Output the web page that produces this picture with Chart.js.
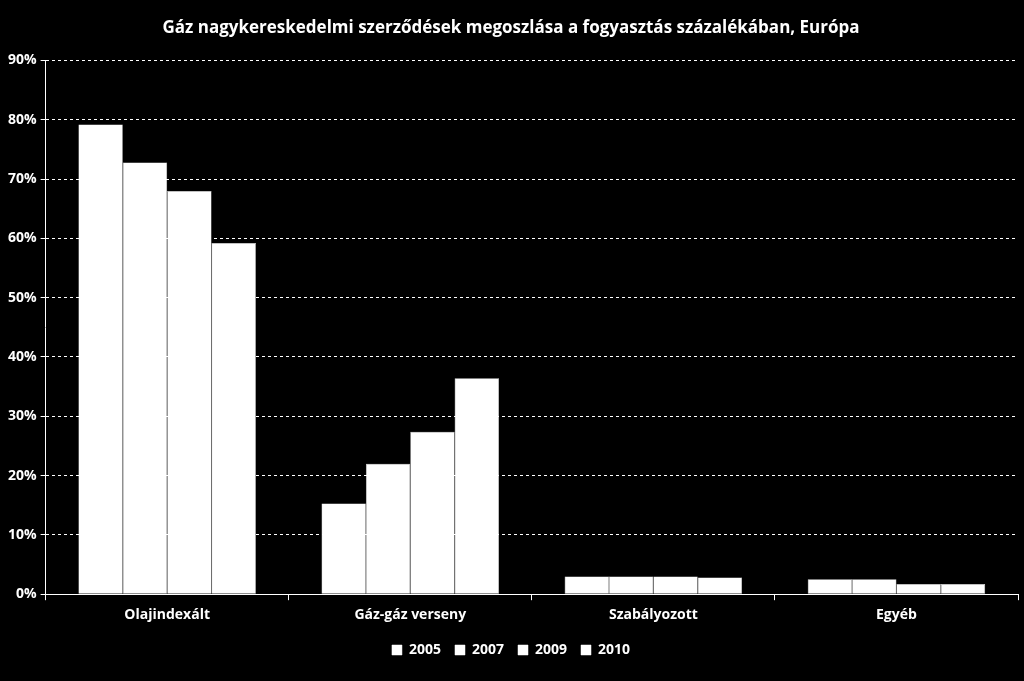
<!DOCTYPE html>
<html>
<head>
<meta charset="utf-8">
<script src="https://cdn.jsdelivr.net/npm/chart.js@4"></script>
<style>
  html, body { margin: 0; padding: 0; background: #000; }
  #wrap { width: 1024px; height: 681px; }
</style>
</head>
<body>
<div id="wrap"><canvas id="chart" width="1024" height="681"></canvas></div>
<script>
const categories = ['Olajindexált', 'Gáz-gáz verseny', 'Szabályozott', 'Egyéb'];
const years = ['2005', '2007', '2009', '2010'];
const values2005 = [79.2, 15.3, 3.0, 2.5];
const values2007 = [72.8, 22.0, 3.0, 2.5];
const values2009 = [68.0, 27.4, 3.0, 1.7];
const values2010 = [59.2, 36.4, 2.8, 1.7];
const yTicks = [0, 10, 20, 30, 40, 50, 60, 70, 80, 90];

const font = { family: "'Open Sans', sans-serif", weight: 'bold', size: 14 };

const ctx = document.getElementById('chart').getContext('2d');
new Chart(ctx, {
    type: 'bar',
    data: {
        labels: categories,
        datasets: [values2005, values2007, values2009, values2010].map((vals, i) => ({
            label: years[i],
            data: vals,
            backgroundColor: '#fff',
            borderColor: '#fff',
            borderWidth: 0.5,
            categoryPercentage: 0.73,
            barPercentage: 1.0
        }))
    },
    options: {
        responsive: false,
        animation: false,
        layout: { padding: { left: 4, right: 6, top: 0, bottom: 14 } },
        plugins: {
            title: {
                display: true,
                text: 'Gáz nagykereskedelmi szerződések megoszlása a fogyasztás százalékában, Európa',
                color: '#fff',
                font: { family: "'Open Sans', sans-serif", weight: 'bold', size: 17 },
                padding: { top: 18, bottom: 22 }
            },
            legend: {
                position: 'bottom',
                labels: {
                    color: '#fff',
                    font: font,
                    boxWidth: 10,
                    boxHeight: 10,
                    padding: 14
                }
            },
            tooltip: { enabled: false }
        },
        scales: {
            x: {
                grid: {
                    display: true,
                    drawOnChartArea: false,
                    color: '#fff',
                    tickLength: 6,
                    offset: true
                },
                border: { color: '#fff', width: 1 },
                ticks: { color: '#fff', font: font, padding: 6 }
            },
            y: {
                min: 0,
                max: 90,
                afterBuildTicks: axis => { axis.ticks = yTicks.map(v => ({ value: v })); },
                grid: {
                    color: '#fff',
                    lineWidth: 1,
                    tickLength: 5
                },
                border: { color: '#fff', width: 1, dash: [3, 3] },
                ticks: {
                    color: '#fff',
                    font: font,
                    padding: 4,
                    callback: v => v + '%'
                }
            }
        }
    }
});
</script>
</body>
</html>
